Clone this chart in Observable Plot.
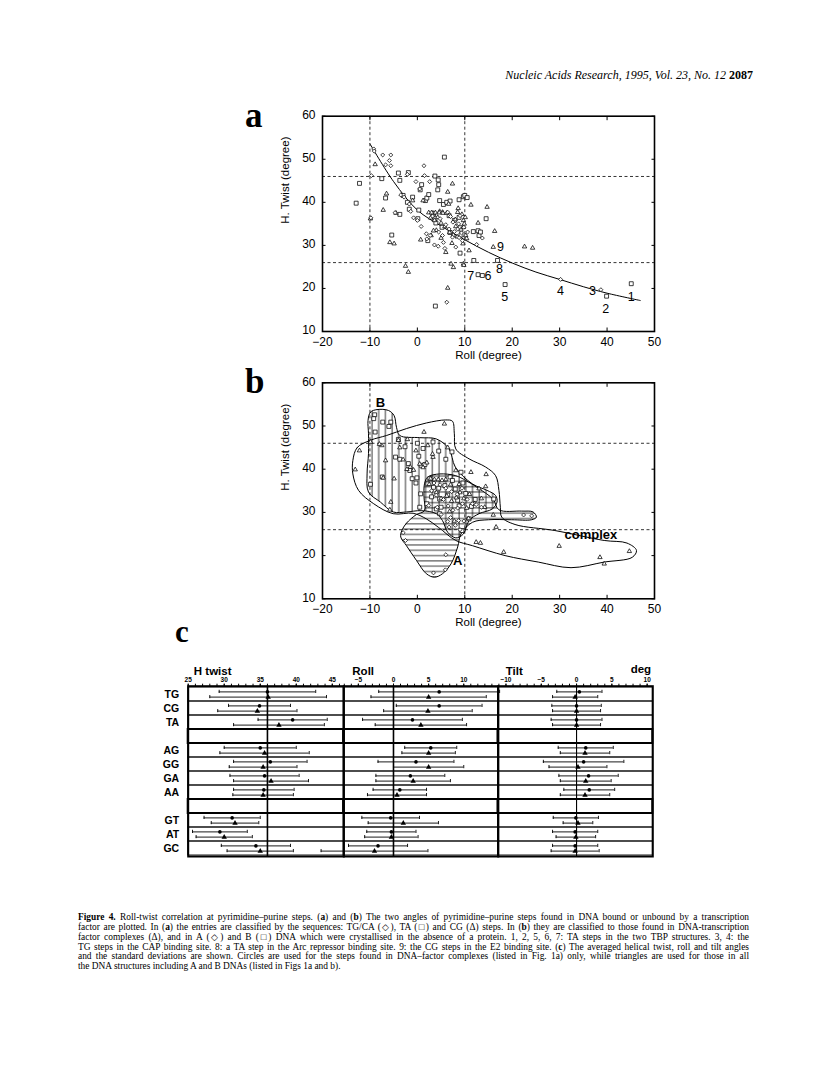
<!DOCTYPE html>
<html><head><meta charset="utf-8">
<script src="https://cdn.jsdelivr.net/npm/d3@7"></script>
<script src="https://cdn.jsdelivr.net/npm/@observablehq/plot@0.6"></script>
<style>
body{margin:0;background:#fff;}
#page{position:relative;width:816px;height:1086px;overflow:hidden;background:#fff;}
svg{overflow:visible}
.cap{position:absolute;left:78px;width:671px;font:9.4px/10px 'Liberation Serif','Times New Roman',serif;text-align:justify;text-align-last:justify;color:#000;}
.cap.last{text-align-last:left;}
</style></head><body><div id="page"></div>
<script>
// ---------------- DATA ----------------
const xTicksAB = [-20,-10,0,10,20,30,40,50];
const yTicksAB = [10,20,30,40,50,60];
const dashRoll = [-10,10];
const dashTwist = [26,46];

// Panel a: TG/CA (diamond), TA (square), CG (triangle)  [roll, twist]
const aTG = [[-9.7,46.2],[-9.8,36.4],[-9.2,52.4],[-9.1,51.9],[-7.3,51.0],[-6.7,48.7],[-5.9,49.7],[-5.6,51.0],[-5.6,48.5],[-4.7,37.6],[-3.5,41.7],[-2.8,41.2],[-2.1,46.5],[-1.7,39.6],[-1.4,37.9],[-0.8,36.4],[-0.3,44.8],[0.0,35.8],[0.5,43.1],[0.8,34.4],[1.4,48.5],[1.5,46.2],[1.9,32.7],[2.0,31.5],[2.6,44.8],[2.7,32.3],[3.6,30.1],[4.4,29.8],[4.5,33.1],[5.3,32.3],[5.5,30.7],[5.8,29.3],[6.2,16.8],[6.4,37.7],[6.7,33.8],[7.0,36.7],[7.4,31.9],[7.5,35.4],[8.1,29.6],[8.5,33.8],[8.7,35.0],[9.0,36.9],[9.3,32.9],[9.5,31.1],[10.6,33.1],[12.5,30.2],[13.7,31.7],[30.2,22.1],[38.7,19.7],[3.2,36.8],[4.8,36.2],[6.0,34.8],[7.8,33.2],[8.8,31.8],[9.8,34.2]];
const aTA = [[-12.9,39.8],[-12.2,44.4],[-7.5,45.5],[-6.7,41.0],[-5.4,32.4],[-4.0,46.8],[-3.7,45.1],[-3.0,41.6],[-3.7,37.2],[-1.9,46.9],[-2.1,40.0],[-1.7,38.4],[-1.0,41.2],[0.1,36.2],[0.3,38.2],[0.6,42.9],[0.9,44.1],[1.7,40.4],[2.0,41.0],[2.4,41.8],[2.2,31.1],[3.7,46.1],[3.8,15.9],[4.4,45.2],[4.5,44.1],[4.3,42.9],[4.7,40.4],[5.5,39.5],[5.7,50.5],[3.4,37.3],[3.7,36.2],[3.9,35.2],[5.2,34.2],[6.2,40.0],[6.7,36.9],[6.9,40.3],[6.9,33.0],[7.8,35.8],[8.8,40.6],[8.8,36.5],[9.0,34.1],[9.0,28.2],[9.2,32.4],[9.7,41.3],[10.0,41.6],[10.5,41.1],[11.9,26.5],[11.8,33.2],[12.8,33.4],[12.8,23.2],[13.0,32.3],[13.3,33.1],[13.7,23.0],[14.5,36.2],[16.9,26.5],[18.5,20.9],[39.9,18.2],[45.1,21.1]];
const aCG = [[-8.9,48.8],[-7.2,38.2],[-6.5,42.0],[-5.8,30.7],[-4.9,30.4],[-4.5,37.5],[-2.5,25.2],[-1.9,23.8],[-1.0,40.4],[0.7,31.3],[1.2,40.4],[2.4,37.6],[2.9,32.3],[3.3,37.5],[4.0,33.5],[4.3,36.5],[4.7,37.9],[5.0,31.7],[5.3,37.7],[6.0,28.4],[6.4,42.4],[6.4,20.1],[6.6,39.6],[7.1,25.7],[7.4,44.3],[7.6,24.9],[8.0,36.0],[8.1,34.4],[8.5,37.7],[9.7,35.8],[9.7,34.2],[10.1,36.5],[10.2,32.3],[10.9,28.8],[11.3,39.4],[12.8,35.2],[14.7,38.9],[16.3,33.3],[16.0,29.6],[22.6,29.7],[24.3,29.4],[3.0,37.6],[3.8,37.6],[4.6,37.6],[5.4,37.5],[6.2,37.5],[2.8,36.4],[3.6,35.8],[5.0,35.2],[5.8,34.4],[6.8,33.0],[7.6,32.4],[8.4,32.0],[9.2,33.6],[9.9,35.0],[9.4,37.2],[8.6,38.6],[3.4,33.4],[7.3,30.5],[9.6,30.4],[10.4,31.6],[9.7,25.7],[9.8,25.4],[-9.9,36.2]];
// fitted curve
const fitRoll  = [-10,-5,0,5,10,15,20,25,30,35,40,47];
const fitTwist = [53.6,44.8,38.2,34.5,31.3,28.4,25.9,23.8,22.1,20.4,18.9,17.2];
// numbered annotations
const numLabels = ["1","2","3","4","5","6","7","8","9"];
const numRoll   = [45.1,39.7,36.9,30.2,18.4,14.9,11.25,17.3,17.5];
const numTwist  = [18.1,15.3,19.5,19.4,18.1,22.8,23.0,24.6,29.6];

// Panel b: complex (triangle), A (diamond), B (square)
const bComplex = [[-13.1,39.9],[-12.2,44.3],[-9.9,46.3],[-7.5,45.5],[-6.7,42.0],[-5.6,32.4],[-4.9,37.8],[-4.0,46.7],[-3.7,45.0],[-3.0,42.2],[-2.1,46.9],[-0.3,44.3],[1.4,48.6],[2.2,45.5],[3.3,42.8],[5.7,50.5],[6.4,45.0],[8.1,39.7],[11.3,39.3],[13.0,35.5],[14.5,38.8],[14.4,36.0],[16.0,29.4],[16.6,26.6],[18.2,20.8],[12.4,23.1],[13.3,22.9],[29.9,22.2],[38.5,19.6],[39.4,18.1],[44.7,21.0],[-1.5,40.5],[-0.8,39.8],[0.5,41.2],[1.2,40.4],[2.0,41.5],[2.8,37.8],[3.6,37.6],[4.4,37.6],[5.2,37.4],[6.0,37.6],[7.0,36.4],[4.0,34.6],[5.0,33.2],[6.2,33.8],[7.2,32.6],[8.2,33.4],[9.0,34.6],[9.8,33.2],[10.4,31.0],[11.0,34.2],[12.0,32.0],[13.5,33.2],[8.8,36.5],[2.5,36.5],[3.2,43.5],[-2.2,40.0],[-8.0,45.8],[-7.2,38.0],[-5.8,30.6],[7.8,28.0],[6.8,30.2],[10.8,28.6],[14.2,31.2]];
const bA = [[-3.0,25.3],[-2.5,23.5],[3.4,16.0],[5.9,16.7],[6.0,20.2],[6.4,27.9],[6.7,26.6],[8.7,28.1],[22.4,29.4],[24.1,29.2],[11.6,32.0],[12.4,31.8],[3.0,35.0],[4.0,34.0],[5.5,33.0],[6.5,31.5],[7.5,30.5],[8.5,31.0],[9.5,32.0],[10.5,33.0],[13.5,31.2],[7.0,28.8],[9.8,28.0],[5.0,29.5],[8.0,27.0],[9.0,26.0],[3.5,36.8],[4.8,36.4],[6.0,35.6],[7.2,34.8],[8.4,34.2],[9.4,35.6],[2.4,31.6],[4.2,31.2]];
const bB = [[-9.0,52.6],[-9.2,51.7],[-8.9,48.6],[-7.3,50.9],[-6.0,49.9],[-5.6,50.9],[-9.9,36.5],[-7.4,38.2],[-4.0,46.9],[-3.7,42.3],[-1.9,41.3],[-1.6,39.7],[-1.1,37.8],[-0.3,36.8],[0.0,46.0],[0.3,43.0],[-0.1,38.0],[0.8,40.9],[0.7,34.3],[0.5,31.2],[1.6,41.1],[2.2,36.6],[2.6,37.8],[3.3,46.3],[3.4,35.8],[4.0,30.8],[4.5,44.2],[4.5,35.6],[4.7,33.1],[4.7,29.7],[5.0,31.2],[6.0,42.3],[6.9,38.2],[7.3,44.0],[7.4,37.4],[8.5,32.8],[8.8,31.5],[9.4,25.8],[9.2,39.3],[10.9,28.5],[16.1,33.1],[2.0,32.0],[3.0,33.6],[5.8,36.2],[6.4,34.0],[8.0,35.4],[9.6,36.8],[10.2,34.4],[11.4,31.4],[12.2,33.0],[1.2,44.8],[-4.6,42.8],[-2.6,45.2]];
// region outlines in panel b
const hullComplex = [[-13.6,42],[-12.7,45],[-9.9,46.7],[-6.5,47.8],[-2.3,49.4],[1.9,50.7],[6.0,51.4],[7.4,51.1],[7.8,48.2],[8.1,44.7],[10.9,42.4],[14.4,40.5],[16.5,38.5],[17.2,35.1],[17.5,31.2],[17.8,28.9],[20.6,27.2],[29,25.8],[39.4,23.5],[44.2,22.9],[46.2,21.2],[45.3,19.6],[39.4,18.5],[32.4,17.2],[25.5,18.5],[18.5,20.0],[11.6,22.3],[8.1,23.5],[4.5,26.5],[1.9,28.5],[-0.9,29.8],[-5.1,29.7],[-9.2,32.0],[-12.4,35.1],[-13.6,38.9]];
const hullB = [[-10.4,51.3],[-9.9,53.2],[-8.5,53.8],[-6.1,53.6],[-4.9,52.4],[-4.4,49.7],[-3.7,47.8],[0.5,47.3],[4.0,47.0],[6.7,44.7],[8.0,40.5],[11.6,36.6],[14.7,35.1],[16.5,33.9],[16.8,32.4],[15.8,30.8],[13.0,29.7],[10.9,28.1],[9.7,25.0],[8.1,24.1],[6.4,25.4],[5.3,28.1],[4.0,29.7],[0.8,30.4],[-2.3,30.1],[-5.1,30.1],[-7.8,32.4],[-10.3,34.7],[-10.6,38.9],[-10.3,43.6],[-10.3,48.2]];
const hullA = [[-3.3,25.7],[-2.3,27.5],[-0.2,29.5],[1.5,30.4],[1.4,33.5],[1.5,36.6],[2.2,38.2],[4.7,38.9],[8.1,38.5],[10.2,37.4],[13,35.5],[16,33],[17.2,30.6],[22.0,30.3],[24.4,30.1],[25.1,28.9],[24.1,28.3],[19.9,28.3],[15,28.3],[11.6,27.7],[9.2,25.0],[8.5,22.0],[7.1,18.1],[5.3,15.8],[3.6,15.0],[1.9,15.8],[-0.2,18.9],[-2.3,22.3],[-3.5,24.3]];
const regionLabels = ["B","A","complex"];
const regionRoll  = [-7.8,8.5,36.6];
const regionTwist = [55.3,18.9,24.7];

// Panel c
const rows  = ["TG","CG","TA","gap1","AG","GG","GA","AA","gap2","GT","AT","GC"];
const steps = ["TG","CG","TA","AG","GG","GA","AA","GT","AT","GC"];
const twistCircMean = [36.0,34.9,39.5,35.0,36.4,35.6,35.5,31.1,29.4,34.4];
const twistCircSD   = [6.7,4.3,4.8,5.0,5.1,4.8,4.2,3.9,3.8,4.8];
const twistTriMean  = [36.1,34.6,37.6,35.6,35.4,36.5,35.4,31.5,30.0,35.0];
const twistTriSD    = [8.1,5.5,6.3,6.2,4.7,5.2,4.2,3.3,3.9,4.6];
const rollCircMean  = [6.5,6.5,2.7,5.3,3.2,2.4,0.9,-0.4,-0.3,-2.2];
const rollCircSD    = [8.6,6.1,7.1,3.7,5.4,4.9,3.8,4.1,3.5,4.2];
const rollTriMean   = [5.0,4.9,3.9,5.0,5.0,2.8,0.5,1.4,-0.3,-2.7];
const rollTriSD     = [8.2,6.3,6.5,3.8,5.0,5.3,4.2,5.0,3.8,7.6];
const tiltCircMean  = [0.4,0.0,0.0,1.3,1.0,1.7,1.8,-0.1,-0.2,-0.2];
const tiltCircSD    = [3.2,3.5,3.6,3.9,5.7,4.2,3.6,3.2,3.2,3.2];
const tiltTriMean   = [-0.2,0.0,0.0,1.2,0.2,1.3,1.2,0.2,-0.1,-0.2];
const tiltTriSD     = [3.2,3.4,3.4,3.5,4.1,3.6,3.5,2.1,2.8,3.4];
const twistMajor = [25,30,35,40,45];
const rollMajor  = [-5,0,5,10];
const tiltMajor  = [-10,-5,0,5,10];

// ---------------- DRAW ----------------
const page = document.getElementById("page");
function place(node, left, top){ node.style.position="absolute"; node.style.left=left+"px"; node.style.top=top+"px"; page.appendChild(node); return node; }
const sans = "'Liberation Sans', Arial, Helvetica, sans-serif";
const baseStyle = {fontFamily: sans, fontSize: "12px", background: "transparent", overflow: "visible", color: "black"};
const X = d => d[0], Y = d => d[1];
const empty = () => "";

function axesAB() {
  return [
    Plot.ruleX(dashRoll, {strokeDasharray: "3,2.5", strokeWidth: 0.8}),
    Plot.ruleY(dashTwist, {strokeDasharray: "3,2.5", strokeWidth: 0.8}),
  ];
}
function frameAB() {
  return [
    Plot.frame({strokeWidth: 1.6}),
    Plot.axisX(xTicksAB, {anchor: "bottom", tickSize: 3.5, dy: -3.5, tickFormat: empty, label: null}),
    Plot.axisX(xTicksAB, {anchor: "top", tickSize: 3.5, dy: 3.5, tickFormat: empty, label: null}),
    Plot.axisY(yTicksAB, {anchor: "left", tickSize: 3.5, dx: 3.5, tickFormat: empty, label: null}),
    Plot.axisY(yTicksAB, {anchor: "right", tickSize: 3.5, dx: -3.5, tickFormat: empty, label: null}),
    Plot.axisX(xTicksAB, {anchor: "bottom", tickSize: 0, tickPadding: 6, label: null, fontSize: 12}),
    Plot.axisY(yTicksAB, {anchor: "left", tickSize: 0, tickPadding: 7, label: null, fontSize: 12, dy: -1}),
    Plot.text(["Roll (degree)"], {text: d => d, frameAnchor: "bottom", dy: 27, fontSize: 11.5}),
    Plot.text(["H. Twist (degree)"], {text: d => d, frameAnchor: "left", dx: -37, rotate: -90, fontSize: 11.5})
  ];
}
const dotOpts = (sym, r) => ({x: X, y: Y, symbol: sym, r, stroke: "black", fill: "white", strokeWidth: 0.75});

// Panel a
const plotA = Plot.plot({
  width: 816, height: 271, marginLeft: 322, marginRight: 162, marginTop: 15.7, marginBottom: 40,
  style: baseStyle, x: {domain: [-20, 50]}, y: {domain: [10, 60]},
  marks: [
    ...axesAB(),
    Plot.line(fitRoll.map((r, i) => [r, fitTwist[i]]), {x: X, y: Y, curve: "catmull-rom", strokeWidth: 1}),
    Plot.dot(aTA, dotOpts("square2", 2.5)),
    Plot.dot(aCG, dotOpts("triangle2", 2.1)),
    Plot.dot(aTG, dotOpts("diamond2", 1.8)),
    Plot.text(numLabels, {x: (d, i) => numRoll[i], y: (d, i) => numTwist[i], text: d => d, fontSize: 12.5}),
    ...frameAB()
  ]
});
place(plotA, 0, 100);

// Panel b
const plotB = Plot.plot({
  width: 816, height: 271.3, marginLeft: 322, marginRight: 162, marginTop: 15.3, marginBottom: 40,
  style: baseStyle, x: {domain: [-20, 50]}, y: {domain: [10, 60]},
  marks: [
    ...axesAB(),
    Plot.line(hullA, {x: X, y: Y, curve: "catmull-rom-closed", fill: "url(#hhatch)", stroke: "black", strokeWidth: 1}),
    Plot.line(hullB, {x: X, y: Y, curve: "catmull-rom-closed", fill: "url(#vhatch)", stroke: "black", strokeWidth: 1}),
    Plot.line(hullComplex, {x: X, y: Y, curve: "catmull-rom-closed", fill: "none", stroke: "black", strokeWidth: 1}),
    Plot.dot(bB, dotOpts("square2", 2.5)),
    Plot.dot(bComplex, dotOpts("triangle2", 2.1)),
    Plot.dot(bA, dotOpts("diamond2", 1.8)),
    Plot.text(regionLabels, {x: (d, i) => regionRoll[i], y: (d, i) => regionTwist[i], text: d => d, fontWeight: "bold", fontSize: 13}),
    ...frameAB()
  ]
});
const defs = d3.select(plotB).insert("defs", ":first-child");
defs.append("pattern").attr("id", "vhatch").attr("patternUnits", "userSpaceOnUse").attr("width", 6.7).attr("height", 10)
  .append("line").attr("x1", 3).attr("x2", 3).attr("y1", 0).attr("y2", 10).attr("stroke", "black").attr("stroke-width", 0.8);
defs.append("pattern").attr("id", "hhatch").attr("patternUnits", "userSpaceOnUse").attr("width", 10).attr("height", 5.3)
  .append("line").attr("x1", 0).attr("x2", 10).attr("y1", 2.6).attr("y2", 2.6).attr("stroke", "black").attr("stroke-width", 0.8);
place(plotB, 0, 367);

// Panel c
function bars(mean, sd) { return steps.map((s, i) => ({row: s, m: mean[i], lo: mean[i] - sd[i], hi: mean[i] + sd[i]})); }
function cPanel({ml, right, domain, major, ref, refW, circ, tri, rowAxis, headers}) {
  const bw = 170.3 / 12, cap = 1.7, off = 2.6, ci = bw / 2 - cap;
  const marks = [
    Plot.barX(rows, {y: d => d, x1: domain[0], x2: domain[1], fill: "none", stroke: "black", strokeWidth: 0.9}),
    Plot.barX(rows.filter(r => r.startsWith("gap")), {y: d => d, x1: domain[0], x2: domain[1], fill: "none", stroke: "black", strokeWidth: 2}),
    Plot.ruleX([ref], {strokeWidth: refW})
  ];
  for (const [data, sym, dy, r] of [[circ, "circle", -off, 1.8], [tri, "triangle", off, 2.0]]) {
    marks.push(
      Plot.ruleY(data, {y: "row", x1: "lo", x2: "hi", dy, strokeWidth: 0.9}),
      Plot.tickX(data, {x: "lo", y: "row", dy, insetTop: ci, insetBottom: ci, strokeWidth: 0.9}),
      Plot.tickX(data, {x: "hi", y: "row", dy, insetTop: ci, insetBottom: ci, strokeWidth: 0.9}),
      Plot.dot(data, {x: "m", y: "row", dy, r, symbol: sym, fill: "black", stroke: "none"})
    );
  }
  const minor = d3.range(Math.ceil(domain[0]), Math.floor(domain[1]) + 1);
  marks.push(
    Plot.frame({strokeWidth: 2}),
    Plot.axisX(minor, {anchor: "top", tickSize: 3, tickFormat: empty, label: null}),
    Plot.axisX(major, {anchor: "top", tickSize: 3, tickPadding: 1, fontSize: 6.5, fontWeight: "bold", label: null})
  );
  if (rowAxis) marks.push(Plot.axisY(rows, {anchor: "left", tickSize: 0, tickPadding: 9, fontSize: 10.5, fontWeight: "bold", label: null, tickFormat: d => d.startsWith("gap") ? "" : d}));
  for (const h of headers) marks.push(Plot.text([h.t], {text: d => d, frameAnchor: "top-left", dx: h.dx, dy: h.dy, textAnchor: "start", fontWeight: "bold", fontSize: h.fs}));
  return Plot.plot({
    width: 816, height: 226, marginLeft: ml, marginRight: 816 - right, marginTop: 45.7, marginBottom: 10,
    style: baseStyle,
    x: {domain}, y: {type: "band", domain: rows, padding: 0, axis: null},
    marks
  });
}
place(cPanel({ml: 187.7, right: 343.3, domain: [25, 46.6], major: twistMajor, ref: 36, refW: 1.6,
  circ: bars(twistCircMean, twistCircSD), tri: bars(twistTriMean, twistTriSD), rowAxis: true,
  headers: [{t: "H twist", dx: 5.6, dy: -19, fs: 11.5}]}), 0, 640);
place(cPanel({ml: 343.3, right: 497.7, domain: [-7.07, 14.9], major: rollMajor, ref: 0, refW: 1.6,
  circ: bars(rollCircMean, rollCircSD), tri: bars(rollTriMean, rollTriSD), rowAxis: false,
  headers: [{t: "Roll", dx: 8.5, dy: -19, fs: 11.5}]}), 0, 640);
place(cPanel({ml: 497.7, right: 652.3, domain: [-11.1, 10.8], major: tiltMajor, ref: 0, refW: 1.1,
  circ: bars(tiltCircMean, tiltCircSD), tri: bars(tiltTriMean, tiltTriSD), rowAxis: false,
  headers: [{t: "Tilt", dx: 7.5, dy: -19, fs: 11.5}, {t: "deg", dx: 132.5, dy: -21, fs: 11.5}]}), 0, 640);

// Overlay text: running head and panel letters
const ov = d3.create("svg").attr("width", 816).attr("height", 1086).style("pointer-events", "none");
const hd = ov.append("text").attr("x", 753).attr("y", 79.3).attr("text-anchor", "end")
  .attr("font-family", "'Liberation Serif','Times New Roman',serif").attr("font-size", 12);
hd.append("tspan").attr("font-style", "italic").text("Nucleic Acids Research, 1995, Vol. 23, No. 12 ");
hd.append("tspan").attr("font-weight", "bold").text("2087");
const letters = [["a", 245, 126.7, 35], ["b", 245, 393.3, 35], ["c", 175, 641.7, 31]];
for (const [t, x, y, fs] of letters)
  ov.append("text").attr("x", x).attr("y", y).attr("font-family", "'Liberation Serif','Times New Roman',serif")
    .attr("font-weight", "bold").attr("font-size", fs).text(t);
place(ov.node(), 0, 0);

// Caption
const capLines = [
  "<b>Figure 4.</b> Roll-twist correlation at pyrimidine–purine steps. (<b>a</b>) and (<b>b</b>) The two angles of pyrimidine–purine steps found in DNA bound or unbound by a transcription",
  "factor are plotted. In (<b>a</b>) the entries are classified by the sequences: TG/CA (◇), TA (□) and CG (Δ) steps. In (<b>b</b>) they are classified to those found in DNA-transcription",
  "factor complexes (Δ), and in A (◇) and B (□) DNA which were crystallised in the absence of a protein. 1, 2, 5, 6, 7: TA steps in the two TBP structures. 3, 4: the",
  "TG steps in the CAP binding site. 8: a TA step in the Arc repressor binding site. 9: the CG steps in the E2 binding site. (<b>c</b>) The averaged helical twist, roll and tilt angles",
  "and the standard deviations are shown. Circles are used for the steps found in DNA–factor complexes (listed in Fig. 1a) only, while triangles are used for those in all",
  "the DNA structures including A and B DNAs (listed in Figs 1a and b)."
];
capLines.forEach((l, i) => {
  const d = document.createElement("div");
  d.className = "cap" + (i === capLines.length - 1 ? " last" : "");
  d.style.top = (911.8 + i * 9.9) + "px";
  d.innerHTML = l;
  page.appendChild(d);
});
</script></body></html>
